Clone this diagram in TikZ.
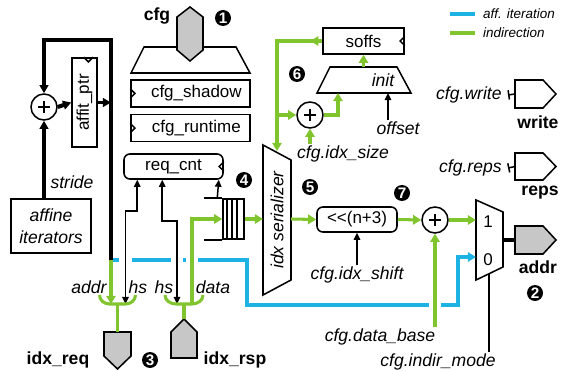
\documentclass[tikz,border=0pt]{standalone}
\usepackage{fontspec}
\setmainfont{Liberation Sans}
\usepackage{tikz}
\usetikzlibrary{positioning,calc,arrows.meta}
\definecolor{indgreen}{RGB}{128,196,46}
\definecolor{affblue}{RGB}{28,178,228}

\begin{document}
\begin{tikzpicture}[x=0.03cm, y=-0.03cm,
  font=\fontsize{14.5}{16}\selectfont,
  sig/.style={line width=1.3pt, >={Triangle[length=6pt,width=5.5pt]}},
  ind/.style={draw=indgreen, line width=2.6pt, >={Triangle[length=7pt,width=8pt]}},
  aff/.style={draw=affblue, line width=2.6pt, >={Triangle[length=7pt,width=8pt]}},
  bus/.style={line width=3.4pt, >={Triangle[length=7pt,width=7.5pt]}},
  bridged/.style={preaction={draw=white, line width=11pt, -, shorten <=4pt, shorten >=4pt}},
  reg/.style={draw, line width=1.3pt, fill=white, inner sep=0pt},
  portg/.style={draw, line width=1.3pt, fill=black!22},
  portw/.style={draw, line width=1.3pt, fill=white},
  adder/.style={circle, draw, line width=1.3pt, fill=white, minimum size=0.78cm, inner sep=0pt,
    path picture={\draw[line width=1.4pt]
      ([xshift=-5pt]path picture bounding box.center) -- ([xshift=5pt]path picture bounding box.center)
      ([yshift=-5pt]path picture bounding box.center) -- ([yshift=5pt]path picture bounding box.center);}},
  lbl/.style={font=\fontsize{15}{17}\selectfont\itshape, inner sep=1pt},
  bld/.style={font=\fontsize{15}{17}\selectfont\bfseries, inner sep=1pt},
  lgd/.style={font=\fontsize{11.5}{13}\selectfont\itshape, inner sep=0pt},
  badge/.style={circle, fill=black, text=white, inner sep=0pt, minimum size=0.48cm,
    font=\fontsize{13}{13}\selectfont\bfseries}]
  \useasboundingbox (0,0) rectangle (564,371);

  % Leyenda
  \node[lgd, anchor=west] (lgaff) at (483,14) {aff. iteration};
  \node[lgd, anchor=west] (lgind) at (483,33) {indirection};
  \draw[aff] ($(lgaff.west)+(-33,0)$) -- ($(lgaff.west)+(-8,0)$);
  \draw[ind] ($(lgind.west)+(-33,0)$) -- ($(lgind.west)+(-8,0)$);

  % Configuracion
  \draw[reg] (144,47) -- (236,47) -- (250,73) -- (131,73) -- cycle;
  \draw[portg] (190,7) -- (203,17) -- (203,50) -- (190,61) -- (177,50) -- (177,17) -- cycle;
  \node[bld] (cfg) at (157,16) {cfg};
  \node[badge] (b1) at (223,18) {1};
  \node[reg, minimum width=3.57cm, minimum height=0.81cm] (shadow) at (190.5,93.5) {\hspace*{10pt}cfg\_shadow};
  \node[reg, minimum width=3.57cm, minimum height=0.81cm, below=0.18cm of shadow] (runtime) {\hspace*{10pt}cfg\_runtime};
  \draw[sig] ([yshift=4pt]shadow.west) -- ++(4pt,-4pt) -- ++(-4pt,-4pt);
  \draw[sig] ([yshift=4pt]runtime.west) -- ++(4pt,-4pt) -- ++(-4pt,-4pt);

  % Iteradores afines
  \node[reg, minimum width=0.75cm, minimum height=2.67cm] (aptr) at (84.5,102.5) {\rotatebox{90}{affit\_ptr}};
  \draw[sig] ([xshift=-12pt]aptr.north east) -- ++(4pt,-4pt) -- ++(4pt,4pt);
  \node[adder] (add1) at (44,107) {};
  \node[reg, align=center, minimum width=2.4cm, minimum height=1.62cm,
    font=\fontsize{15}{19}\selectfont\itshape] (affit) at (51,226) {affine\\iterators};
  \node[lbl] (stride) at (72,182) {stride};

  % Contador de peticiones y FIFO
  \node[reg, rounded corners=5pt, minimum width=2.97cm, minimum height=0.75cm] (rcnt) at (173.5,166.5) {req\_cnt};
  \draw[sig] ([yshift=4pt]rcnt.east) -- ++(-4pt,-4pt) -- ++(4pt,-4pt);
  \node[badge] (b4) at (244,180) {4};
  \node[draw, line width=1.3pt, minimum width=0.63cm, minimum height=1.2cm, inner sep=0pt] (fifo) at (233.5,219) {};
  \foreach \dx in {5,10,15}
    \draw[sig] ($(fifo.north west)+(\dx,0)$) -- ($(fifo.south west)+(\dx,0)$);
  \draw[sig] (fifo.north west) -- ++(-18,0);
  \draw[sig] (fifo.south west) -- ++(-18,0);
  \draw[sig,->] ($(fifo.north west)+(-5,0)$) -- ($(rcnt.south east)+(-5,0)$);

  % Serializador
  \draw[reg] (263,145) -- (291,160) -- (291,280) -- (263,295) -- cycle;
  \node[lbl, rotate=90] (ser) at (277,220) {idx serializer};
  \coordinate (serin) at (263,219);
  \coordinate (serout) at (291,219);
  \coordinate (sertop) at (277,151);
  \node[badge] (b5) at (310,187) {5};

  % Desplazamiento inicial
  \node[reg, minimum width=2.43cm, minimum height=0.78cm] (soffs) at (363.5,41) {soffs};
  \draw[sig] ([yshift=4pt]soffs.east) -- ++(-4pt,-4pt) -- ++(4pt,-4pt);
  \draw[reg] (330,67) -- (397,67) -- (411,93) -- (317,93) -- cycle;
  \node[lbl] (init) at (383,80) {init};
  \coordinate (initt) at (363.5,67);
  \coordinate (initb) at (338,93);
  \coordinate (inito) at (388,93);
  \node[adder] (add2) at (310,115) {};
  \node[lbl] (isize) at (343,154) {cfg.idx\_size};
  \node[lbl] (offs) at (398,128) {offset};
  \node[badge] (b6) at (297,74) {6};

  % Direccion de datos
  \node[reg, rounded corners=5pt, minimum width=2.4cm, minimum height=0.75cm] (shl) at (357,219.5) {{<}{<}(n+3)};
  \node[lbl] (ishift) at (357,275) {cfg.idx\_shift};
  \node[adder] (add3) at (435,220) {};
  \node[lbl] (dbase) at (380,337) {cfg.data\_base};
  \node[badge] (b7) at (402,193) {7};

  % Multiplexor
  \draw[reg] (476,200) -- (503,212) -- (503,267) -- (476,280) -- cycle;
  \node (m1) at (488,222) {1};
  \node (m0) at (488,260) {0};
  \coordinate (mux1) at (476,220);
  \coordinate (mux0) at (476,257);
  \coordinate (muxo) at (503,240);
  \coordinate (muxs) at (489,274);
  \node[lbl] (mode) at (438,362) {cfg.indir\_mode};

  % Puertos
  \draw[portg] (515,226) -- (543,226) -- (556,240) -- (543,254) -- (515,254) -- cycle;
  \coordinate (addrp) at (515,240);
  \node[bld] (addr) at (538,267) {addr};
  \node[badge] (b2) at (535,293) {2};
  \draw[portw] (515,80) -- (543,80) -- (556,94) -- (543,108) -- (515,108) -- cycle;
  \coordinate (wrp) at (515,94);
  \node[lbl, anchor=east] (cwr) at (503,95) {cfg.write};
  \node[bld] (write) at (538,122) {write};
  \draw[portw] (515,153) -- (543,153) -- (556,166.5) -- (543,180) -- (515,180) -- cycle;
  \coordinate (repp) at (515,166.5);
  \node[lbl, anchor=east] (creps) at (503,168) {cfg.reps};
  \node[bld] (reps) at (540,193) {reps};
  \draw[portg] (104,332) -- (131,332) -- (131,356) -- (117.5,369) -- (104,356) -- cycle;
  \coordinate (reqp) at (117.5,332);
  \draw[portg] (171,358) -- (171,332) -- (184,319) -- (197,332) -- (197,358) -- cycle;
  \coordinate (rspp) at (184,319);
  \node[bld] (ireq) at (58,360) {idx\_req};
  \node[bld] (irsp) at (235,360) {idx\_rsp};
  \node[badge] (b3) at (150,360) {3};
  \coordinate (f1) at (117.5,304);
  \coordinate (f2) at (184,304);

  % Conexiones
  \coordinate (split) at (111,260);
  \coordinate (loop) at (111,40);
  \draw[aff,->] (split) -| (247,305) -| ($(mux0)+(-18,0)$) -- (mux0);
  \draw[bus,->] (split) -- (loop) -| (add1.north);
  \draw[bus,->] (aptr.east) -- (aptr.east -| split);
  \draw[bus,->] (add1 |- affit.north) -- (add1.south);
  \draw[bus,->] (add1.east) -- (aptr.west);
  \draw[ind,->] (split) -- (split |- f1);
  \draw[sig,bridged,<->] ($(rcnt.south west)+(14,0)$) -- ++(0,31) -| ($(f1)+(8,0)$);
  \draw[sig,bridged,<->] ($(rcnt.south west)+(39,0)$) -- ++(0,41) -| ($(f2)+(-7,0)$);
  \draw[ind,bridged,->] ($(f2)+(8,0)$) |- (fifo.west);
  \draw[ind,->] (fifo.east) -- (serin);
  \draw[ind,->] (initt) -- (soffs.south);
  \draw[ind,->] (soffs.west) -- ++(-12,0);
  \draw[ind,->] (soffs.west) -| (sertop);
  \draw[ind,->] (add2 -| sertop) -- (add2.west);
  \draw[ind,->] (add2 |- isize.north) -- (add2.south);
  \draw[ind,->] (add2.east) -| (initb);
  \draw[sig,->] (inito |- offs.north) -- (inito);
  \draw[ind,->] (serout) -- (shl.west);
  \draw[sig,->] (ishift.north) -- (shl.south);
  \draw[ind,->] (shl.east) -- (add3.west);
  \draw[ind,bridged,->] (add3 |- dbase.north) -- (add3.south);
  \draw[ind,->] (add3.east) -- (mux1);
  \draw[sig] (muxs) -- (muxs |- mode.north);
  \draw[bus] (muxo) -- (addrp);
  \draw[sig,{Bar[width=8pt]}-] ($(cwr.east)+(5,0)$) -- (wrp);
  \draw[sig,{Bar[width=8pt]}-] ($(creps.east)+(5,0)$) -- (repp);

  % Bifurcaciones
  \draw[ind] ($(f1)+(-18,-9)$) to[out=-90,in=180] ($(f1)+(-8,0)$) -- ($(f1)+(8,0)$) to[out=0,in=-90] ($(f1)+(18,-9)$);
  \draw[ind] (f1) -- (reqp);
  \draw[ind] ($(f2)+(-19,-9)$) to[out=-90,in=180] ($(f2)+(-8,0)$) -- ($(f2)+(8,0)$) to[out=0,in=-90] ($(f2)+(19,-9)$);
  \draw[ind] (f2) -- (rspp);

  % Etiquetas de senales
  \node[lbl] (laddr) at (89,287) {addr};
  \node[lbl] (lhs1) at (138,287) {hs};
  \node[lbl] (lhs2) at (164,287) {hs};
  \node[lbl] (ldata) at (213,287) {data};
\end{tikzpicture}
\end{document}
